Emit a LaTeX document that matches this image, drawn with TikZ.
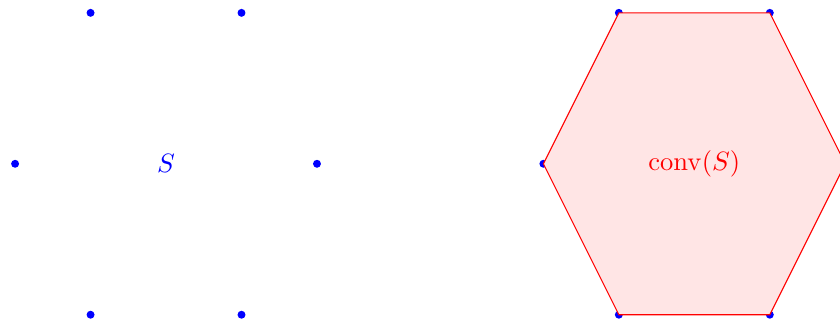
\documentclass[tikz,border=0pt]{standalone}
\begin{document}
\begin{tikzpicture}[x=1cm,y=1cm,
  ptdot/.style={circle,fill=blue,inner sep=0pt,minimum size=3pt},
  hull/.style={draw=red,fill=red!10,line width=0.4pt}]
\useasboundingbox (-2.2,-2.09) rectangle (8.93,2.17);
% points of S
\coordinate (a1) at (1,2);
\coordinate (a2) at (-1,2);
\coordinate (a3) at (-2,0);
\coordinate (a4) at (-1,-2);
\coordinate (a5) at (1,-2);
\coordinate (a6) at (2,0);
% points of S, shifted copy
\coordinate (b1) at (8,2);
\coordinate (b2) at (6,2);
\coordinate (b3) at (5,0);
\coordinate (b4) at (6,-2);
\coordinate (b5) at (8,-2);
\coordinate (b6) at (9,0);
\foreach \n in {1,...,6}{
  \node[ptdot] (da\n) at (a\n) {};
  \node[ptdot] (db\n) at (b\n) {};
}
\node[text=blue] (lS) at (0,0) {$S$};
\draw[hull] (b1) -- (b2) -- (b3) -- (b4) -- (b5) -- (b6) -- cycle;
\node[text=red] (lconv) at (7,0) {$\mathrm{conv}(S)$};
\end{tikzpicture}
\end{document}
